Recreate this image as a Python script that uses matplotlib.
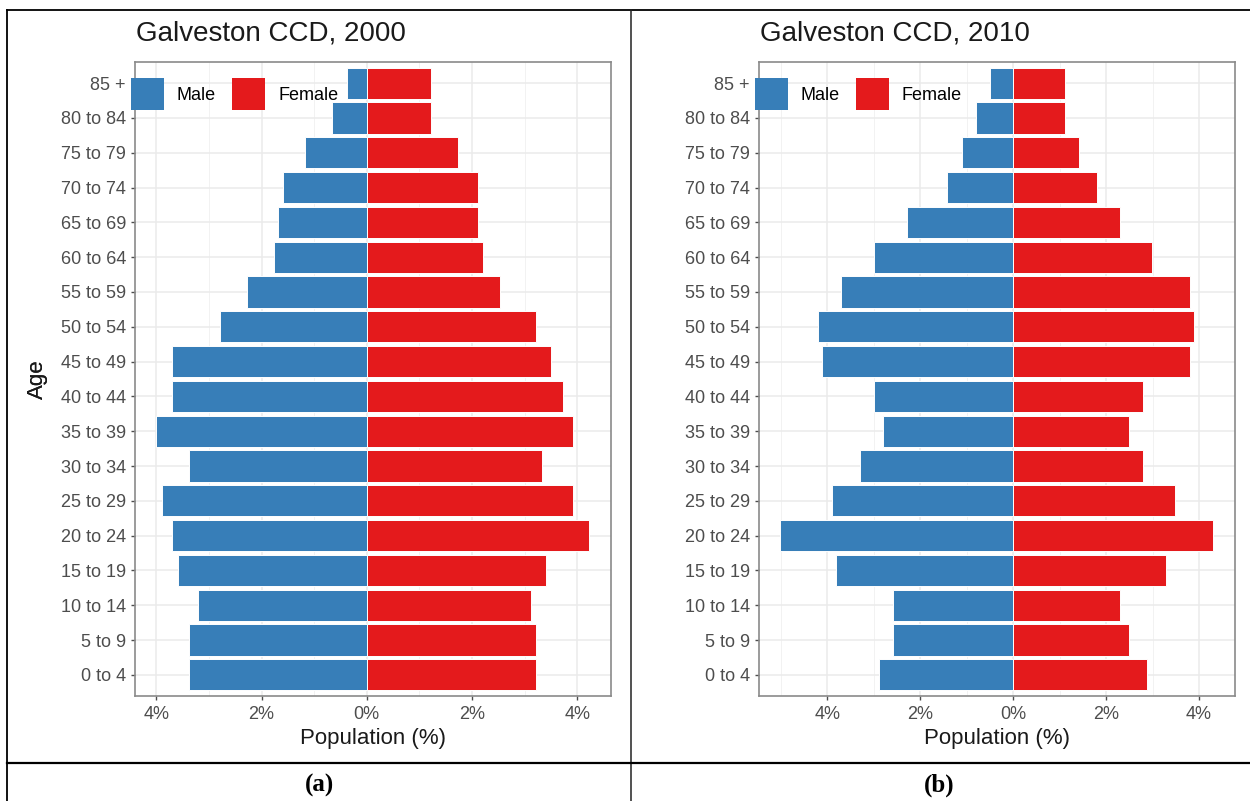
import numpy as np
import matplotlib
matplotlib.use("Agg")
import matplotlib.pyplot as plt
from matplotlib.patches import Patch
from matplotlib.lines import Line2D
from matplotlib.ticker import FuncFormatter, FixedLocator

plt.rcParams['font.family'] = ['Liberation Sans', 'DejaVu Sans']

age = ["0 to 4", "5 to 9", "10 to 14", "15 to 19", "20 to 24", "25 to 29",
       "30 to 34", "35 to 39", "40 to 44", "45 to 49", "50 to 54", "55 to 59",
       "60 to 64", "65 to 69", "70 to 74", "75 to 79", "80 to 84", "85 +"]

male_2000 = [3.38, 3.38, 3.20, 3.59, 3.70, 3.89, 3.38, 4.00, 3.70, 3.70,
             2.79, 2.28, 1.77, 1.68, 1.60, 1.18, 0.67, 0.37]
female_2000 = [3.21, 3.21, 3.12, 3.41, 4.22, 3.92, 3.33, 3.92, 3.72, 3.50,
               3.21, 2.53, 2.20, 2.11, 2.11, 1.73, 1.22, 1.22]

male_2010 = [2.90, 2.59, 2.59, 3.81, 5.02, 3.90, 3.30, 2.80, 2.99, 4.11,
             4.21, 3.71, 2.99, 2.29, 1.42, 1.11, 0.81, 0.51]
female_2010 = [2.89, 2.49, 2.29, 3.30, 4.30, 3.49, 2.79, 2.49, 2.79, 3.80,
               3.90, 3.80, 2.99, 2.29, 1.81, 1.41, 1.11, 1.11]

titles = ["Galveston CCD, 2000", "Galveston CCD, 2010"]
captions = ["(a)", "(b)"]

blue = "#377EB8"
red = "#E41A1C"
W, H = 1250, 801

fig = plt.figure(figsize=(12.5, 8.01), dpi=100)


def pyramid(left_px, male, female, title):
    right_px = left_px + 476
    top_px, bot_px = 62.3, 695.7
    ax = fig.add_axes([left_px / W, 1 - bot_px / H,
                       (right_px - left_px) / W, (bot_px - top_px) / H])
    y = np.arange(1, len(age) + 1)
    m = -np.array(male)
    f = np.array(female)
    ax.barh(y, m, height=0.9, color=blue, edgecolor="white", linewidth=0.7, zorder=2)
    ax.barh(y, f, height=0.9, color=red, edgecolor="white", linewidth=0.7, zorder=2)

    lo, hi = m.min(), f.max()
    pad = 0.05 * (hi - lo)
    ax.set_xlim(lo - pad, hi + pad)
    ax.set_ylim(0.4, len(age) + 0.6)

    ax.xaxis.set_major_locator(FixedLocator([-4, -2, 0, 2, 4]))
    ax.xaxis.set_minor_locator(FixedLocator([-5, -3, -1, 1, 3]))
    ax.xaxis.set_major_formatter(FuncFormatter(lambda v, p: "%d%%" % abs(round(v))))
    ax.set_yticks(y)
    ax.set_yticklabels(age)

    ax.grid(which="major", color="#EBEBEB", linewidth=1.1, zorder=0)
    ax.grid(which="minor", axis="x", color="#F2F2F2", linewidth=0.7, zorder=0)
    ax.set_axisbelow(True)

    for s in ax.spines.values():
        s.set_color("#8A8A8A")
        s.set_linewidth(1.2)
    ax.tick_params(which="major", length=3.2, width=1.0, color="#4D4D4D",
                   labelsize=13, labelcolor="#4D4D4D", pad=3)
    ax.tick_params(axis="x", which="major", pad=4.5)
    ax.tick_params(which="minor", length=0)

    ax.set_xlabel("Population (%)", fontsize=16, color="#1A1A1A", va="center")
    ax.xaxis.set_label_coords(0.5, -0.068)
    ax.set_ylabel("Age", fontsize=16, color="#1A1A1A", va="center")
    ax.yaxis.set_label_coords((37 - left_px) / 476, 0.5)

    fig.text((left_px + 1) / W, 1 - 34 / H, title, fontsize=20,
             color="#1A1A1A", ha="left", va="center")

    handles = [Patch(facecolor=blue, edgecolor="none", label="Male"),
               Patch(facecolor=red, edgecolor="none", label="Female")]
    fig.legend(handles=handles, loc="center left",
               bbox_to_anchor=((left_px - 4) / W, 1 - 94 / H),
               ncol=2, frameon=False, fontsize=13, handlelength=1.85,
               handleheight=2.35, handletextpad=0.7, columnspacing=0.9,
               borderpad=0, borderaxespad=0)
    return ax


pyramid(134.6, male_2000, female_2000, titles[0])
pyramid(758.5, male_2010, female_2010, titles[1])

# table frame around the two panels
fig.add_artist(Line2D([7 / W, 1], [1 - 10 / H, 1 - 10 / H], color="black", linewidth=1.3))
fig.add_artist(Line2D([7 / W, 7 / W], [0, 1 - 10 / H], color="black", linewidth=1.3))
fig.add_artist(Line2D([631 / W, 631 / W], [0, 1 - 10 / H], color="#222222", linewidth=1.1))
fig.add_artist(Line2D([7 / W, 1], [1 - 763 / H, 1 - 763 / H], color="black", linewidth=1.6))

fig.text(319 / W, 1 - 785 / H, captions[0], fontsize=18, fontweight="bold",
         family=["Liberation Serif", "DejaVu Serif"], ha="center", va="center")
fig.text(939 / W, 1 - 785 / H, captions[1], fontsize=18, fontweight="bold",
         family=["Liberation Serif", "DejaVu Serif"], ha="center", va="center")

fig.savefig("out.png", dpi=100)
